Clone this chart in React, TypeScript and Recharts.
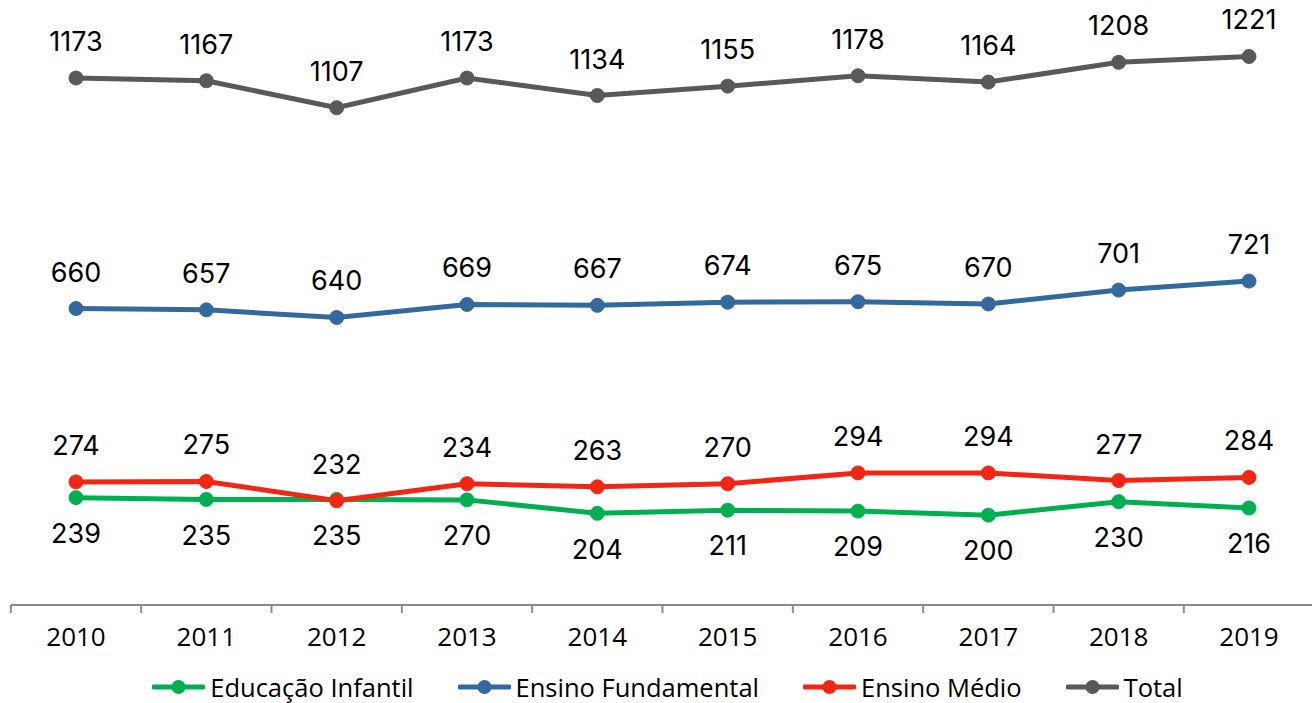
import React from 'react';
import { LineChart, Line, XAxis, YAxis, Legend, LabelList } from 'recharts';

const years = ['2010', '2011', '2012', '2013', '2014', '2015', '2016', '2017', '2018', '2019'];
const infantil = [239, 235, 235, 234, 204, 211, 209, 200, 230, 216];
const fundamental = [660, 657, 640, 669, 667, 674, 675, 670, 701, 721];
const medio = [274, 275, 232, 270, 263, 270, 294, 294, 277, 284];
const total = [1173, 1167, 1107, 1173, 1134, 1155, 1178, 1164, 1208, 1221];
// printed data labels as they appear in the reference
const infantilLabels = ['239', '235', '235', '270', '204', '211', '209', '200', '230', '216'];
const medioLabels = ['274', '275', '232', '234', '263', '270', '294', '294', '277', '284'];

const seriesNames = ['Educação Infantil', 'Ensino Fundamental', 'Ensino Médio', 'Total'];
const colors = ['#00B050', '#336A9E', '#F22613', '#595959'];

const data = years.map((y, i) => ({
  year: y,
  infantil: infantil[i],
  fundamental: fundamental[i],
  medio: medio[i],
  total: total[i],
  infantilLabel: infantilLabels[i],
  medioLabel: medioLabels[i],
}));

const LABEL_FONT = 'Inter, Roboto, sans-serif';
const TEXT_FONT = '"Open Sans", sans-serif';
const HALF_BAND = 65.17;

const XTick = (props: any) => {
  const { x, y, payload } = props;
  return (
    <g>
      <line x1={x - HALF_BAND} y1={y} x2={x - HALF_BAND} y2={y + 8} stroke="#8C8C8C" strokeWidth={2} />
      <text x={x} y={y + 41} textAnchor="middle" fontFamily={TEXT_FONT} fontSize={26} fill="#000">
        {payload.value}
      </text>
    </g>
  );
};

const LegendContent = () => (
  <div
    style={{
      display: 'flex',
      justifyContent: 'center',
      alignItems: 'flex-end',
      height: 44,
      paddingLeft: 12,
      boxSizing: 'border-box',
      fontFamily: TEXT_FONT,
      fontSize: 25.5,
      color: '#000',
    }}
  >
    {seriesNames.map((n, i) => (
      <div key={n} style={{ display: 'flex', alignItems: 'center', height: 32, marginLeft: i === 0 ? 0 : 44 }}>
        <svg width={53} height={16} style={{ marginRight: 5 }}>
          <line x1={2} y1={8} x2={51} y2={8} stroke={colors[i]} strokeWidth={5} strokeLinecap="round" />
          <circle cx={26.5} cy={8} r={7} fill={colors[i]} />
        </svg>
        <span style={{ lineHeight: '32px', whiteSpace: 'nowrap' }}>{n}</span>
      </div>
    ))}
  </div>
);

const labelStyle = { fontFamily: LABEL_FONT, fontSize: 27, fill: '#000' };

export default function App() {
  return (
    <div style={{ position: 'absolute', left: 0, top: 0, width: 1312, height: 703, overflow: 'hidden', background: '#fff' }}>
      <LineChart width={1312} height={703} data={data} margin={{ top: 21, right: 0, bottom: 0, left: 11 }}>
        <XAxis
          dataKey="year"
          padding={{ left: 65, right: 63 }}
          axisLine={{ stroke: '#8C8C8C', strokeWidth: 2 }}
          tickLine={false}
          tickSize={0}
          tickMargin={0}
          height={54}
          tick={<XTick />}
          interval={0}
        />
        <YAxis hide domain={[0, 1300]} />
        <Legend verticalAlign="bottom" content={<LegendContent />} wrapperStyle={{ height: 44 }} />
        <Line dataKey="infantil" name={seriesNames[0]} stroke={colors[0]} strokeWidth={5} dot={{ r: 7, fill: colors[0], stroke: colors[0], strokeWidth: 1 }} isAnimationActive={false}>
          <LabelList dataKey="infantilLabel" position="bottom" offset={26} style={labelStyle} />
        </Line>
        <Line dataKey="fundamental" name={seriesNames[1]} stroke={colors[1]} strokeWidth={5} dot={{ r: 7, fill: colors[1], stroke: colors[1], strokeWidth: 1 }} isAnimationActive={false}>
          <LabelList dataKey="fundamental" position="top" offset={27} style={labelStyle} />
        </Line>
        <Line dataKey="medio" name={seriesNames[2]} stroke={colors[2]} strokeWidth={5} dot={{ r: 7, fill: colors[2], stroke: colors[2], strokeWidth: 1 }} isAnimationActive={false}>
          <LabelList dataKey="medioLabel" position="top" offset={27} style={labelStyle} />
        </Line>
        <Line dataKey="total" name={seriesNames[3]} stroke={colors[3]} strokeWidth={5} dot={{ r: 7, fill: colors[3], stroke: colors[3], strokeWidth: 1 }} isAnimationActive={false}>
          <LabelList dataKey="total" position="top" offset={27} style={labelStyle} />
        </Line>
      </LineChart>
    </div>
  );
}
